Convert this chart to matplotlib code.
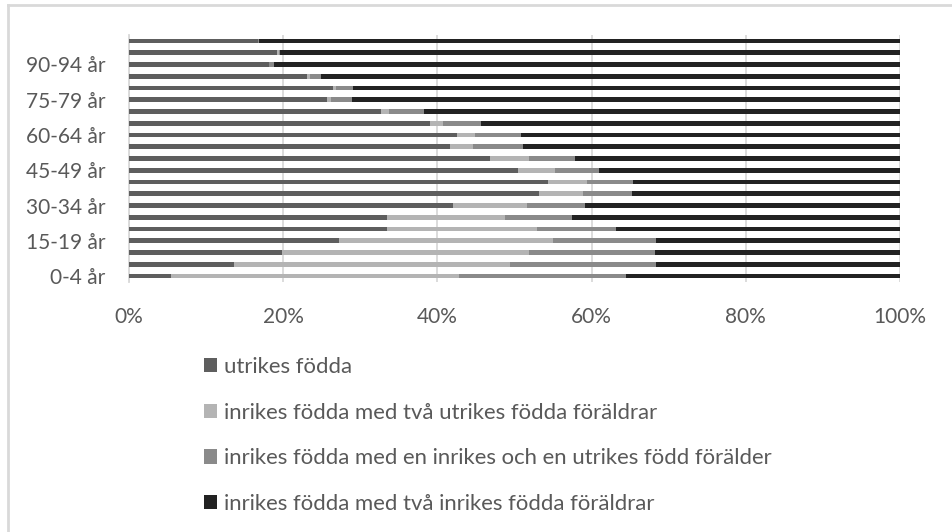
import numpy as np
import matplotlib
matplotlib.use("Agg")
import matplotlib.pyplot as plt
from matplotlib.lines import Line2D

plt.rcParams['font.family'] = ['Lato', 'DejaVu Sans']

# age groups, bottom to top
ages = ["0-4 år", "5-9 år", "10-14 år", "15-19 år", "20-24 år", "25-29 år",
        "30-34 år", "35-39 år", "40-44 år", "45-49 år", "50-54 år", "55-59 år",
        "60-64 år", "65-69 år", "70-74 år", "75-79 år", "80-84 år", "85-89 år",
        "90-94 år", "95-99 år", "100+ år"]

# shares in percent
utrikes = [5.5, 13.6, 19.8, 27.3, 33.5, 33.5, 42.0, 53.2, 54.3, 50.4, 46.8,
           41.6, 42.5, 39.1, 32.7, 25.7, 26.5, 23.1, 18.1, 19.2, 16.7]
tva_utrikes = [37.3, 35.8, 32.1, 27.7, 19.4, 15.3, 9.6, 5.7, 5.1, 4.9, 5.1,
               3.0, 2.4, 1.6, 1.0, 0.5, 0.4, 0.4, 0.1, 0.2, 0.0]
en_utrikes = [21.6, 19.0, 16.3, 13.3, 10.3, 8.6, 7.5, 6.4, 6.0, 5.7, 6.0,
              6.5, 6.0, 5.0, 4.5, 2.7, 2.1, 1.4, 0.6, 0.2, 0.1]
tva_inrikes = [35.6, 31.6, 31.8, 31.7, 36.8, 42.6, 40.9, 34.7, 34.6, 39.0, 42.1,
               48.9, 49.1, 54.3, 61.8, 71.1, 71.0, 75.1, 81.2, 80.4, 83.2]

series = [
    ("utrikes födda", utrikes, "#5e5e5e"),
    ("inrikes födda med två utrikes födda föräldrar", tva_utrikes, "#b4b4b4"),
    ("inrikes födda med en inrikes och en utrikes född förälder", en_utrikes, "#8a8a8a"),
    ("inrikes födda med två inrikes födda föräldrar", tva_inrikes, "#222222"),
]

W, H = 952, 532
fig = plt.figure(figsize=(W / 100, H / 100), dpi=100)
ax = fig.add_axes([129 / W, 1 - 282 / H, (900 - 129) / W, (282 - 35) / H])

y = np.arange(len(ages))
left = np.zeros(len(ages))
handles = []
for label, vals, color in series:
    vals = np.array(vals)
    b = ax.barh(y, vals, left=left, height=0.4, color=color, label=label, zorder=3)
    left += vals
    handles.append(b)

ax.set_xlim(0, 100)
ax.set_ylim(-0.5, len(ages) - 0.5)
ax.set_xticks(range(0, 101, 20))
ax.set_xticklabels([f"{v}%" for v in range(0, 101, 20)])
ax.set_yticks(y[::3])
ax.set_yticklabels(ages[::3])
ax.grid(axis='x', color='#d9d9d9', linewidth=1.3, zorder=0)
for s in ['top', 'right', 'bottom']:
    ax.spines[s].set_visible(False)
ax.spines['left'].set_color('#d9d9d9')
ax.spines['left'].set_linewidth(1.3)
ax.tick_params(length=0, labelsize=15, labelcolor='#595959')
ax.tick_params(axis='y', pad=17)
ax.tick_params(axis='x', pad=18)

fig.legend(handles=handles, loc='upper left', bbox_to_anchor=(193 / W, 1 - 346 / H),
           frameon=False, fontsize=15.9, labelcolor='#595959',
           handlelength=0.6, handleheight=0.6, handletextpad=0.3,
           labelspacing=1.16, borderpad=0)

# outer chart frame (top and left edges visible)
fig.add_artist(Line2D([8 / W, 1], [1 - 5 / H, 1 - 5 / H], color='#d9d9d9', lw=2,
                      transform=fig.transFigure))
fig.add_artist(Line2D([8 / W, 8 / W], [0, 1 - 5 / H], color='#d9d9d9', lw=2,
                      transform=fig.transFigure))

fig.savefig("out.png", dpi=100)
